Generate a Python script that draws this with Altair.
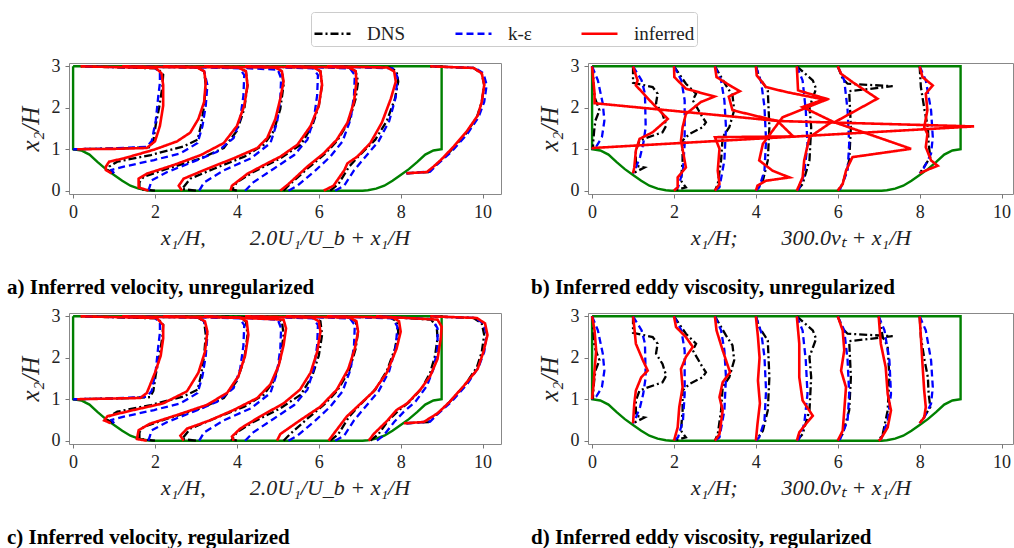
import altair as alt
import pandas as pd

SERIES = ["DNS", "k-ε", "inferred"]
COLORS = ["#000000", "#0000ff", "#ff0000"]
DASHES = [[8, 3, 2, 3], [7, 4], [1, 0]]
STATIONS = [0, 1, 2, 3, 4, 5, 6, 7, 8]
VEL_SCALE = 2.0      # 2.0 U1/Ub + x1/H
NUT_SCALE = 300.0    # 300 nu_t + x1/H  (nu_t stored in units of 1e-3)

# channel outline (periodic hill)
GEOM_X = [0, 0, 0.2, 0.4, 0.6, 0.8, 1.0, 1.2, 1.4, 1.6, 1.8, 1.93, 7.07, 7.2, 7.4, 7.6, 7.8, 8.0, 8.2,
          8.4, 8.6, 8.8, 9.0, 9.0, 0]
GEOM_Y = [3.0, 1.0, 0.97, 0.87, 0.69, 0.52, 0.38, 0.24, 0.12, 0.05, 0.01, 0.0, 0.0, 0.01, 0.05, 0.12,
          0.24, 0.38, 0.52, 0.69, 0.87, 0.97, 1.0, 3.0, 3.0]

# ---------------- velocity profiles U1/Ub ----------------
VEL_DNS_Y = [
    [1.0, 1.02, 1.05, 1.2, 1.6, 2.0, 2.5, 2.8, 2.95, 3.0],
    [0.42, 0.5, 0.58, 0.7, 0.86, 1.07, 1.23, 1.56, 2.05, 2.55, 2.88, 2.97, 3.0],
    [0, 0.04, 0.2, 0.33, 0.53, 0.78, 1.03, 1.44, 1.97, 2.55, 2.88, 2.97, 3.0],
    [0, 0.04, 0.29, 0.53, 0.82, 1.11, 1.44, 1.97, 2.55, 2.88, 2.97, 3.0],
    [0, 0.03, 0.2, 0.45, 0.78, 1.11, 1.56, 2.05, 2.55, 2.88, 2.97, 3.0],
    [0, 0.16, 0.53, 0.86, 1.19, 1.68, 2.22, 2.63, 2.88, 2.97, 3.0],
    [0, 0.16, 0.58, 0.86, 1.23, 1.68, 2.22, 2.63, 2.88, 2.97, 3.0],
    [0, 0.16, 0.49, 0.74, 0.94, 1.27, 1.64, 2.05, 2.47, 2.75, 2.92, 3.0],
    [0.42, 0.45, 0.6, 0.94, 1.36, 1.77, 2.14, 2.55, 2.83, 2.96, 3.0],
]
VEL_DNS_U = [
    [0, 0.6, 0.94, 0.98, 1.01, 1.05, 1.09, 1.1, 1.03, 0.1],
    [0, -0.08, -0.06, 0.04, 0.45, 0.85, 1.02, 1.06, 1.1, 1.12, 1.1, 1.02, 0.1],
    [0, -0.19, -0.19, -0.14, 0.15, 0.56, 0.84, 1.0, 1.09, 1.13, 1.11, 1.02, 0.1],
    [0, -0.17, -0.07, 0.22, 0.59, 0.83, 0.95, 1.03, 1.07, 1.05, 0.97, 0.1],
    [0, -0.06, 0, 0.2, 0.53, 0.78, 0.92, 1.0, 1.04, 1.02, 0.94, 0.1],
    [0.07, 0.15, 0.36, 0.56, 0.72, 0.87, 0.95, 0.98, 0.95, 0.88, 0.1],
    [0.14, 0.24, 0.37, 0.5, 0.69, 0.83, 0.93, 0.97, 0.95, 0.87, 0.1],
    [0.13, 0.23, 0.35, 0.48, 0.61, 0.76, 0.86, 0.92, 0.95, 0.94, 0.87, 0.2],
    [0.07, 0.34, 0.42, 0.6, 0.79, 0.93, 0.99, 1.02, 0.99, 0.89, 0.36],
]
VEL_KE_Y = [
    [1.0, 1.02, 1.06, 1.2, 1.7, 2.28, 2.6, 2.85, 2.96, 3.0],
    [0.42, 0.5, 0.58, 0.74, 0.9, 1.15, 1.56, 2.05, 2.55, 2.88, 2.97, 3.0],
    [0, 0.25, 0.45, 0.7, 0.94, 1.27, 1.73, 2.3, 2.79, 2.95, 3.0],
    [0, 0.2, 0.49, 0.78, 1.15, 1.64, 2.22, 2.71, 2.92, 3.0],
    [0, 0.2, 0.53, 0.86, 1.23, 1.73, 2.3, 2.79, 2.95, 3.0],
    [0, 0.12, 0.49, 0.82, 1.19, 1.73, 2.3, 2.79, 2.95, 3.0],
    [0, 0.12, 0.49, 0.82, 1.19, 1.68, 2.26, 2.75, 2.95, 3.0],
    [0, 0.12, 0.45, 0.7, 0.94, 1.32, 1.73, 2.22, 2.71, 2.93, 3.0],
    [0.42, 0.46, 0.62, 0.94, 1.36, 1.77, 2.14, 2.55, 2.83, 2.96, 3.0],
]
VEL_KE_U = [
    [0, 0.5, 0.9, 0.96, 1.01, 1.04, 1.06, 1.06, 1.0, 0.1],
    [0, -0.03, 0.12, 0.49, 0.81, 1.02, 1.08, 1.12, 1.14, 1.1, 1.03, 0.1],
    [-0.08, -0.04, 0.15, 0.47, 0.76, 0.96, 1.04, 1.08, 1.09, 1.03, 0.1],
    [0.04, 0.1, 0.34, 0.67, 0.91, 0.99, 1.03, 1.04, 1.0, 0.1],
    [0.1, 0.2, 0.45, 0.7, 0.86, 0.94, 0.98, 0.99, 0.93, 0.1],
    [0.13, 0.24, 0.46, 0.64, 0.79, 0.89, 0.93, 0.94, 0.88, 0.1],
    [0.2, 0.31, 0.43, 0.57, 0.73, 0.86, 0.94, 0.96, 0.9, 0.1],
    [0.21, 0.29, 0.42, 0.54, 0.68, 0.82, 0.9, 0.95, 0.95, 0.89, 0.2],
    [0.07, 0.36, 0.44, 0.62, 0.81, 0.95, 1.02, 1.05, 1.01, 0.91, 0.36],
]
# inferred, unregularized (station 7 not shown)
VEL_INF_A_Y = [
    [1.0, 1.01, 1.03, 1.19, 1.56, 2.05, 2.55, 2.83, 2.96, 3.0],
    [0.42, 0.5, 0.58, 0.7, 0.78, 0.99, 1.19, 1.4, 1.73, 2.14, 2.63, 2.88, 2.97, 3.0],
    [0, 0.08, 0.29, 0.41, 0.62, 0.86, 1.15, 1.56, 2.05, 2.55, 2.88, 2.97, 3.0],
    [0, 0.12, 0.29, 0.53, 0.78, 1.03, 1.27, 1.73, 2.22, 2.63, 2.88, 2.97, 3.0],
    [0, 0.12, 0.41, 0.66, 0.82, 1.11, 1.56, 2.05, 2.55, 2.88, 2.97, 3.0],
    [0, 0.16, 0.58, 0.9, 1.23, 1.64, 2.14, 2.63, 2.88, 2.97, 3.0],
    [0, 0.12, 0.49, 0.66, 0.82, 1.15, 1.64, 2.22, 2.63, 2.88, 2.97, 3.0],
    None,
    [0.42, 0.45, 0.58, 0.74, 1.07, 1.44, 1.81, 2.14, 2.55, 2.83, 2.96, 3.0],
]
VEL_INF_A_U = [
    [0.05, 0.53, 0.9, 1.0, 1.06, 1.1, 1.1, 1.08, 1.01, 0.09],
    [-0.03, -0.1, -0.1, -0.06, 0.12, 0.49, 0.77, 0.93, 1.03, 1.1, 1.12, 1.1, 1.02, 0.1],
    [-0.08, -0.2, -0.2, -0.1, 0.23, 0.56, 0.84, 1.0, 1.09, 1.13, 1.11, 1.02, 0.1],
    [-0.17, -0.21, -0.15, 0.14, 0.46, 0.75, 0.87, 0.97, 1.03, 1.07, 1.05, 0.97, 0.1],
    [-0.08, -0.06, 0.13, 0.37, 0.53, 0.74, 0.9, 1.0, 1.04, 1.02, 0.94, 0.1],
    [0.03, 0.13, 0.36, 0.56, 0.72, 0.85, 0.93, 0.96, 0.95, 0.87, 0.1],
    [0.06, 0.18, 0.31, 0.35, 0.47, 0.63, 0.77, 0.88, 0.94, 0.92, 0.84, 0.1],
    None,
    [0.07, 0.32, 0.4, 0.49, 0.65, 0.81, 0.94, 0.99, 1.02, 0.99, 0.89, 0.36],
]
# inferred, regularized
VEL_INF_C_Y = [
    [1.0, 1.03, 1.15, 1.64, 2.05, 2.47, 2.79, 2.96, 3.0],
    [0.42, 0.49, 0.59, 0.74, 0.9, 1.19, 1.64, 2.14, 2.63, 2.88, 2.97, 3.0],
    [0, 0.04, 0.25, 0.41, 0.62, 0.86, 1.15, 1.56, 2.05, 2.55, 2.88, 2.97, 3.0],
    [0, 0.12, 0.29, 0.49, 0.74, 1.03, 1.36, 1.81, 2.3, 2.71, 2.92, 3.0],
    [0, 0.1, 0.29, 0.58, 0.9, 1.23, 1.64, 2.14, 2.63, 2.88, 2.97, 3.0],
    [0, 0.16, 0.49, 0.82, 1.23, 1.73, 2.22, 2.63, 2.88, 2.97, 3.0],
    [0, 0.16, 0.58, 0.82, 1.19, 1.64, 2.22, 2.63, 2.88, 2.97, 3.0],
    [0, 0.16, 0.49, 0.74, 0.9, 1.23, 1.56, 1.97, 2.47, 2.75, 2.92, 3.0],
    [0.42, 0.45, 0.66, 0.94, 1.32, 1.73, 2.14, 2.55, 2.83, 2.96, 3.0],
]
VEL_INF_C_U = [
    [0.05, 0.82, 0.9, 1.0, 1.07, 1.1, 1.1, 1.02, 0.09],
    [-0.04, -0.12, -0.08, 0.24, 0.6, 0.89, 1.03, 1.11, 1.14, 1.11, 1.03, 0.1],
    [-0.1, -0.22, -0.2, -0.06, 0.27, 0.63, 0.88, 1.02, 1.1, 1.14, 1.12, 1.04, 0.1],
    [-0.15, -0.19, -0.11, 0.17, 0.46, 0.75, 0.91, 1.01, 1.07, 1.1, 1.07, 0.1],
    [-0.04, -0.06, 0.04, 0.28, 0.57, 0.77, 0.9, 0.98, 1.02, 1.0, 0.92, 0.1],
    [-0.01, 0.03, 0.27, 0.52, 0.72, 0.86, 0.94, 0.98, 0.96, 0.88, 0.1],
    [0.12, 0.18, 0.34, 0.47, 0.67, 0.83, 0.95, 1.0, 0.98, 0.9, 0.1],
    [0.11, 0.17, 0.34, 0.45, 0.58, 0.74, 0.86, 0.95, 0.99, 1.0, 0.95, 0.2],
    [0.04, 0.28, 0.45, 0.6, 0.77, 0.94, 1.01, 1.06, 1.03, 0.93, 0.36],
]

# ---------------- eddy viscosity profiles nu_t (x 1e-3) ----------------
NUT_DNS_Y = [
    [3.0, 2.9, 2.5, 2.26, 1.94, 1.69, 1.45, 1.21, 1.03, 1.0],
    [3.0, 2.6, 2.5, 2.34, 2.1, 1.85, 1.57, 1.41, 1.27, 1.21, 0.97, 0.6, 0.56, 0.42],
    [3.0, 2.58, 2.34, 2.18, 1.77, 1.65, 1.53, 1.37, 1.21, 0.73, 0.24, 0.08, 0.0],
    [3.0, 2.54, 2.3, 1.94, 1.53, 1.29, 0.73, 0.16, 0],
    [3.0, 2.74, 2.42, 1.53, 0.73, 0.24, 0],
    [3.0, 2.66, 2.46, 2.02, 1.53, 0.73, 0.16, 0],
    [3.0, 2.7, 2.58, 2.52, 2.4, 1.53, 0.73, 0.16, 0],
    [3.0, 2.5, 2.27, 1.53, 0.73, 0.16, 0],
    [3.0, 2.5, 1.94, 1.53, 1.13, 0.81, 0.56, 0.42],
]
NUT_DNS_V = [
    [0, 0.07, 0.13, 0.2, 0.6, 0.27, 0.17, 0.1, 0.07, 0],
    [0, 0, 1.6, 2.0, 1.87, 2.4, 2.7, 2.4, 1.07, 0.53, 0.23, 0.23, 0.93, 0],
    [0, 0.97, 1.8, 1.53, 2.33, 2.6, 2.33, 1.27, 0.7, 0.7, 0.57, 0.97, 0],
    [0, 0.9, 1.43, 1.57, 1.17, 0.63, 0.5, 0.23, 0],
    [0, 0.27, 0.97, 1.1, 0.97, 0.57, 0],
    [0, 1.3, 1.57, 1.03, 1.17, 1.03, 0.47, 0],
    [0, 0.4, 0.8, 4.47, 0.93, 1.07, 0.93, 0.4, 0],
    [0, 0.33, 0.73, 0.87, 0.73, 0.33, 0],
    [0, 0.1, 0.4, 0.67, 0.73, 0.87, 0.33, 0],
]
NUT_KE_Y = [
    [3.0, 2.66, 2.1, 1.69, 1.29, 1.06, 1.0],
    [3.0, 2.66, 2.34, 1.53, 1.13, 0.81, 0.48, 0.42],
    [3.0, 2.66, 2.18, 1.13, 0.48, 0.08, 0],
    [3.0, 2.66, 2.18, 1.53, 0.73, 0.08, 0],
    [3.0, 2.62, 2.02, 1.21, 0.48, 0.08, 0],
    [3.0, 2.66, 1.94, 1.13, 0.4, 0.04, 0],
    [3.0, 2.66, 1.94, 1.13, 0.48, 0.04, 0],
    [3.0, 2.66, 1.94, 1.13, 0.48, 0.04, 0],
    [3.0, 2.66, 1.94, 1.29, 0.89, 0.56, 0.42],
]
NUT_KE_V = [
    [0, 0.47, 0.87, 1.0, 0.8, 0.33, 0],
    [0, 0.7, 0.97, 1.03, 0.83, 0.57, 0.13, 0],
    [0, 0.6, 0.87, 0.87, 0.73, 0.33, 0],
    [0, 0.5, 0.77, 0.9, 0.77, 0.37, 0],
    [0, 0.43, 0.7, 0.83, 0.7, 0.27, 0],
    [0, 0.47, 0.73, 0.87, 0.6, 0.17, 0],
    [0, 0.53, 0.8, 0.93, 0.8, 0.2, 0],
    [0, 0.47, 0.87, 1.0, 0.73, 0.2, 0],
    [0, 0.5, 0.93, 1.07, 0.93, 0.37, 0],
]
NUT_INF_B_Y = [
    [3.0, 2.66, 2.34, 2.11, 1.68, 1.55, 1.03, 1.0],
    [3.0, 2.9, 2.66, 2.54, 2.1, 1.73, 1.41, 1.25, 0.97, 0.56, 0.42],
    [3.0, 2.74, 2.46, 2.27, 2.14, 1.85, 1.53, 1.21, 0.56, 0.32, 0.08, 0],
    [3.0, 2.74, 2.5, 2.4, 2.27, 1.94, 1.68, 1.31, 1.29, 1.01, 0.48, 0.16, 0],
    [3.0, 2.78, 2.5, 2.38, 2.19, 1.77, 1.13, 0.73, 0.48, 0.32, 0.24, 0.12, 0],
    [3.0, 2.42, 2.22, 2.02, 1.67, 1.29, 0.73, 0.32, 0],
    [3.0, 2.82, 2.62, 2.22, 1.65, 1.01, 0.81, 0.48, 0.16, 0],
    None,
    [3.0, 2.74, 2.54, 2.34, 1.94, 1.53, 1.37, 1.05, 0.73, 0.6, 0.52, 0.42],
]
NUT_INF_B_V = [
    [0, 0.1, 0.2, 0.2, 15.2, 31.1, 0.07, 0],
    [0, 0.1, 0.37, 0.23, 1.6, 2.83, 1.6, 0.53, 0.23, 0.1, 0],
    [0, 0.03, 0.97, 3.3, 2.2, 0.97, 0.7, 0.57, 0.97, 0.3, 0.3, 0],
    [0, 0.13, 1.43, 2.03, 1.13, 1.43, 5.1, 6.37, 0, 0.37, 0.23, 0.37, 0],
    [0, 0.07, 0.83, 2.47, 5.7, 2.17, 0.57, 0.27, 1.37, 2.73, 0.83, 0.13, 0],
    [0, 0.1, 2.37, 0.47, 2.9, 1.03, 0.6, 0.47, 0],
    [0, 0.27, 1.2, 3.23, -0.27, 5.97, 1.2, 0.67, 0.4, 0],
    None,
    [0, 0.23, 1.07, 0.5, 0.63, 0.37, 0.63, 0.5, 0.93, 1.47, 0.77, 0],
]
NUT_INF_D_Y = [
    [3.0, 2.66, 2.18, 1.69, 1.29, 1.0],
    [3.0, 2.74, 2.34, 1.94, 1.69, 1.53, 1.21, 0.89, 0.42],
    [3.0, 2.74, 2.5, 2.26, 2.02, 1.73, 1.29, 0.81, 0.32, 0],
    [3.0, 2.66, 2.18, 1.65, 1.41, 1.05, 0.73, 0.16, 0],
    [3.0, 2.5, 2.0, 1.45, 0.9, 0.4, 0],
    [3.0, 2.34, 1.53, 0.97, 0.6, 0.4, 0.2, 0],
    [3.0, 2.66, 2.18, 1.69, 1.29, 0.73, 0.24, 0],
    [3.0, 2.34, 1.77, 1.13, 0.73, 0.32, 0.04, 0],
    [3.0, 2.5, 1.85, 1.21, 0.81, 0.56, 0.42],
]
NUT_INF_D_V = [
    [0, 0.2, 0.33, 0.2, 0.1, 0],
    [0, 0.1, 0.23, 0.8, 1.2, 0.67, 0.23, 0.1, 0],
    [0, 0.17, 0.97, 1.53, 0.97, 0.57, 0.7, 0.43, 0.3, 0],
    [0, 0.13, 0.63, 1.23, 0.63, 0.37, 0.63, 0.37, 0],
    [0, 0.17, 0.3, 0.17, 0.33, 0.13, 0],
    [0, 0.2, 0.2, 0.47, 1.3, 0.73, 0.2, 0],
    [0, 0.4, 0.53, 0.27, 0.67, 0.53, 0.4, 0],
    [0, 0.17, 0.57, 0.73, 1.0, 0.73, 0.17, 0],
    [0, 0.1, 0.23, 0.37, 0.5, 0.37, 0],
]


def build(ys_list, vals_list, factor, series, skip=()):
    rows = []
    for s in STATIONS:
        if s in skip or ys_list[s] is None:
            continue
        for i, (yy, vv) in enumerate(zip(ys_list[s], vals_list[s])):
            rows.append({"x": s + factor * vv, "y": yy, "series": series,
                         "curve": f"{series}-{s}", "i": i})
    return pd.DataFrame(rows)


geom_df = pd.DataFrame({"x": GEOM_X, "y": GEOM_Y, "i": list(range(len(GEOM_X)))})

F_U = VEL_SCALE
F_N = NUT_SCALE * 1e-3

panels_data = {
    "a": [build(VEL_DNS_Y, VEL_DNS_U, F_U, "DNS", skip=(7,)),
          build(VEL_KE_Y, VEL_KE_U, F_U, "k-ε", skip=(7,)),
          build(VEL_INF_A_Y, VEL_INF_A_U, F_U, "inferred")],
    "b": [build(NUT_DNS_Y, NUT_DNS_V, F_N, "DNS", skip=(7,)),
          build(NUT_KE_Y, NUT_KE_V, F_N, "k-ε", skip=(7,)),
          build(NUT_INF_B_Y, NUT_INF_B_V, F_N, "inferred")],
    "c": [build(VEL_DNS_Y, VEL_DNS_U, F_U, "DNS"),
          build(VEL_KE_Y, VEL_KE_U, F_U, "k-ε"),
          build(VEL_INF_C_Y, VEL_INF_C_U, F_U, "inferred")],
    "d": [build(NUT_DNS_Y, NUT_DNS_V, F_N, "DNS"),
          build(NUT_KE_Y, NUT_KE_V, F_N, "k-ε"),
          build(NUT_INF_D_Y, NUT_INF_D_V, F_N, "inferred")],
}

SERIF = "Liberation Serif"
SP = "\u2003\u2003"
XT_VEL = f"x₁/H,{SP}2.0U₁/U_b + x₁/H"
XT_NUT = f"x₁/H;{SP}300.0νₜ + x₁/H"

legend = alt.Legend(
    title=None, orient="none", legendX=242, legendY=-51, direction="horizontal", columns=3,
    symbolType="stroke", symbolSize=1296, symbolStrokeWidth=2.5, labelFont=SERIF,
    labelFontSize=19, labelColor="#222", labelOffset=15, columnPadding=44, padding=2,
    strokeColor="#cccccc", fillColor="white", cornerRadius=3,
)
color_enc = alt.Color("series:N", scale=alt.Scale(domain=SERIES, range=COLORS), legend=legend)
dash_enc = alt.StrokeDash("series:N", scale=alt.Scale(domain=SERIES, range=DASHES), legend=legend)


def panel(key, xtitle, title, width, xmax, dx):
    x = alt.X("x:Q", scale=alt.Scale(domain=[-0.1, xmax], nice=False, zero=False),
              axis=alt.Axis(values=[0, 2, 4, 6, 8, 10], title=xtitle, format="d"))
    y = alt.Y("y:Q", scale=alt.Scale(domain=[-0.08, 3.08], nice=False, zero=False),
              axis=alt.Axis(values=[0, 1, 2, 3], title="x₂/H", format="d", titleFontSize=25,
                            titlePadding=8))
    layers = [alt.Chart(geom_df).mark_line(color="#008000", strokeWidth=2.4).encode(
        x=x, y=y, order=alt.Order("i:Q"))]
    widths = {"DNS": 2.3, "k-ε": 2.3, "inferred": 2.6}
    for df in panels_data[key]:
        s = df["series"].iloc[0]
        layers.append(alt.Chart(df).mark_line(strokeWidth=widths[s]).encode(
            x=x, y=y, detail="curve:N", order=alt.Order("i:Q"), color=color_enc, strokeDash=dash_enc))
    return alt.layer(*layers).properties(
        width=width, height=131,
        title=alt.TitleParams(title, orient="bottom", anchor="start", frame="group", dx=dx,
                              offset=29, font=SERIF, fontSize=21, fontWeight="bold", color="black"))


pa = panel("a", XT_VEL, "a) Inferred velocity, unregularized", 432, 10.45, -62)
pb = panel("b", XT_NUT, "b) Inferred eddy viscosity, unregularized", 425, 10.28, -57)
pc = panel("c", XT_VEL, "c) Inferred velocity, regularized", 432, 10.45, -62)
pd_ = panel("d", XT_NUT, "d) Inferred eddy viscosity, regularized", 425, 10.28, -57)

chart = alt.concat(pa, pb, pc, pd_, columns=2, spacing={"row": 119, "column": 87},
                   bounds="flush").properties(
    padding={"left": 6, "top": 11, "right": 0, "bottom": 0}
).configure(background="white").configure_view(stroke="#888888", strokeWidth=1).configure_axis(
    domain=False, grid=False, tickColor="#777777", tickSize=4, tickWidth=1,
    labelFont=SERIF, labelFontSize=18, labelColor="#222", labelPadding=5,
    titleFont=SERIF, titleFontSize=22, titleFontStyle="italic", titleFontWeight="normal",
    titleColor="#222", titlePadding=6,
)

chart.save("out.html", embed_options={"renderer": "svg", "actions": False})
